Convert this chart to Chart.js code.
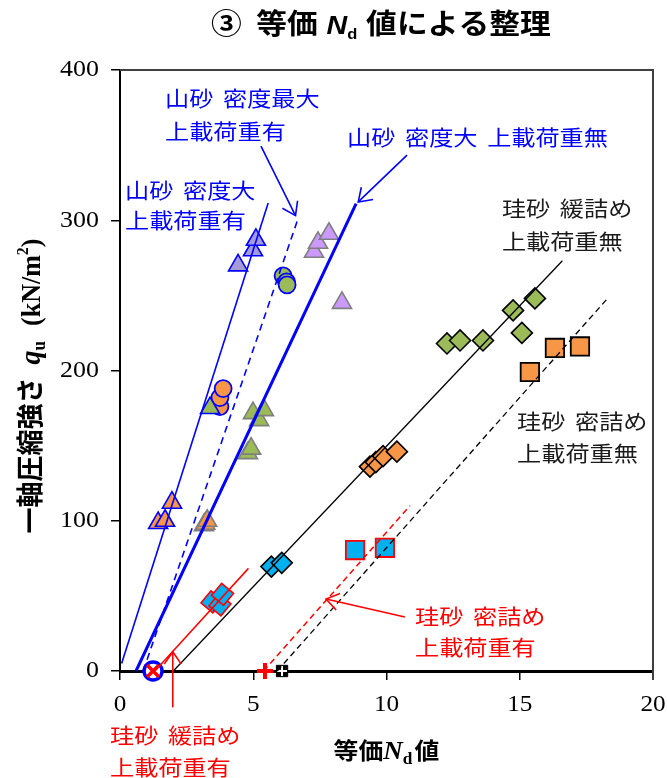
<!DOCTYPE html>
<html>
<head>
<meta charset="utf-8">
<script src="https://cdn.jsdelivr.net/npm/chart.js@4"></script>
<style>
  html, body { margin: 0; padding: 0; background: #fff; }
  #wrap { width: 668px; height: 778px; position: relative; }
</style>
</head>
<body>
<div id="wrap"><canvas id="c" width="668" height="778"></canvas></div>
<script>
// ---- axis ticks ----
const xTickLabels = [0, 5, 10, 15, 20];
const yTickLabels = [0, 100, 200, 300, 400];

// ---- 山砂 密度大 上載荷重有 (blue outline) ----
const yamaDenseLoadedLilacX = [4.43, 4.99, 5.10];
const yamaDenseLoadedLilacY = [270, 280, 287];
const yamaDenseLoadedGreenX = [3.38];
const yamaDenseLoadedGreenY = [175];
const yamaDenseLoadedOrangeX = [1.43, 1.69, 1.95];
const yamaDenseLoadedOrangeY = [98.5, 100, 112];

// ---- 山砂 密度最大 上載荷重有 (circles, blue outline) ----
const yamaMaxLoadedGreenX = [6.12, 6.25, 6.27];
const yamaMaxLoadedGreenY = [263, 259, 257];
const yamaMaxLoadedOrangeX = [3.75, 3.75, 3.87];
const yamaMaxLoadedOrangeY = [176, 182, 188];
const yamaMaxLoadedZeroX = [1.24];
const yamaMaxLoadedZeroY = [0];

// ---- 山砂 密度大 上載荷重無 (grey outline) ----
const yamaDenseFreeLilacX = [7.28, 7.43, 7.84, 8.33];
const yamaDenseFreeLilacY = [279, 285, 291, 245];
const yamaDenseFreeGreenX = [4.80, 4.92, 4.99, 5.22, 5.40];
const yamaDenseFreeGreenY = [145, 148, 171.6, 167, 173.6];
const yamaDenseFreeOrangeX = [3.15, 3.20, 3.27];
const yamaDenseFreeOrangeY = [97, 98, 100];

// ---- 珪砂 緩詰め 上載荷重無 (diamonds) ----
const silicaLooseFreeGreenX = [12.27, 12.76, 13.62, 14.75, 15.08, 15.57];
const silicaLooseFreeGreenY = [218, 220, 220, 240, 225, 248];
const silicaLooseFreeOrangeX = [9.38, 9.60, 9.87, 10.39];
const silicaLooseFreeOrangeY = [136, 139, 143, 146];
const silicaLooseFreeCyanX = [5.68, 6.07];
const silicaLooseFreeCyanY = [69.5, 72];

// ---- 珪砂 密詰め 上載荷重無 (squares) ----
const silicaDenseFreeOrangeX = [15.38, 16.32, 17.26];
const silicaDenseFreeOrangeY = [199, 215, 216];
const silicaDenseFreeZeroX = [6.08];
const silicaDenseFreeZeroY = [0];

// ---- 珪砂 密詰め 上載荷重有 (squares, red outline) ----
const silicaDenseLoadedCyanX = [8.82, 9.94];
const silicaDenseLoadedCyanY = [80.5, 82];
const silicaDenseLoadedZeroX = [5.44];
const silicaDenseLoadedZeroY = [0];

// ---- 珪砂 緩詰め 上載荷重有 (tilted rectangles, red outline) ----
const silicaLooseLoadedCyanX = [3.45, 3.75, 3.85];
const silicaLooseLoadedCyanY = [46, 44, 51];
const silicaLooseLoadedZeroX = [1.24];
const silicaLooseLoadedZeroY = [0];

// ---- trend lines (end points) ----
const fitYamaDenseLoadedX = [0.06, 5.56];
const fitYamaDenseLoadedY = [5, 311.5];
const fitYamaMaxLoadedX = [0.87, 6.68];
const fitYamaMaxLoadedY = [0, 301];
const fitYamaDenseFreeX = [0.6, 8.86];
const fitYamaDenseFreeY = [0, 311];
const fitSilicaLooseFreeX = [2.0, 16.6];
const fitSilicaLooseFreeY = [0, 273];
const fitSilicaDenseFreeX = [5.9, 18.27];
const fitSilicaDenseFreeY = [0, 247.5];
const fitSilicaDenseLoadedX = [5.39, 10.88];
const fitSilicaDenseLoadedY = [0, 110];
const fitSilicaLooseLoadedX = [1.31, 4.82];
const fitSilicaLooseLoadedY = [0, 68.3];

// ---- styling ----
const CJK = '"Noto Sans CJK JP", "Noto Sans", sans-serif';
const SERIF = '"Liberation Serif", "DejaVu Serif", serif';
const SANS = '"Liberation Sans", Arial, sans-serif';
const SX = 1.15; // horizontal widening of the lettering

const BLUE = '#0000ff', RED = '#ff0000', INK = '#1a1a1a';
const GREEN = '#9bbb59', ORANGE = '#f79646', CYAN = '#00b0f0';
const LILAC = '#cc99ff', LILAC_DARK = '#a59bd8', GREY = '#7f7f7f';

function toPoints(xs, ys) { return xs.map((x, i) => ({ x, y: ys[i] })); }

function markers(label, xs, ys, style, radius, fill, stroke, width, order, rotation) {
  return {
    label, data: toPoints(xs, ys), showLine: false, clip: false, order,
    pointStyle: style, pointRadius: radius, pointHoverRadius: radius,
    pointBackgroundColor: fill, pointBorderColor: stroke, pointBorderWidth: width,
    pointHoverBorderWidth: width, pointRotation: rotation || 0,
    backgroundColor: fill, borderColor: stroke
  };
}

function trend(label, xs, ys, color, width, dash) {
  return {
    label, data: toPoints(xs, ys), showLine: true, clip: false, order: 0,
    borderColor: color, borderWidth: width, borderDash: dash || [],
    pointRadius: 0, pointHoverRadius: 0, fill: false, tension: 0
  };
}

const datasets = [
  trend('山砂 密度大 上載荷重有', fitYamaDenseLoadedX, fitYamaDenseLoadedY, BLUE, 1.6),
  trend('山砂 密度最大 上載荷重有', fitYamaMaxLoadedX, fitYamaMaxLoadedY, BLUE, 1.6, [7, 5]),
  trend('山砂 密度大 上載荷重無', fitYamaDenseFreeX, fitYamaDenseFreeY, BLUE, 3),
  trend('珪砂 緩詰め 上載荷重無', fitSilicaLooseFreeX, fitSilicaLooseFreeY, '#000', 1.3),
  trend('珪砂 密詰め 上載荷重無', fitSilicaDenseFreeX, fitSilicaDenseFreeY, '#000', 1.3, [6, 4]),
  trend('珪砂 密詰め 上載荷重有', fitSilicaDenseLoadedX, fitSilicaDenseLoadedY, RED, 1.5, [6, 4]),
  trend('珪砂 緩詰め 上載荷重有', fitSilicaLooseLoadedX, fitSilicaLooseLoadedY, RED, 1.5),

  markers('山砂 密度大 上載荷重有 (A)', yamaDenseLoadedLilacX, yamaDenseLoadedLilacY, 'triangle', 11, LILAC_DARK, BLUE, 1.6, 5),
  markers('山砂 密度大 上載荷重有 (B)', yamaDenseLoadedGreenX, yamaDenseLoadedGreenY, 'triangle', 11, GREEN, BLUE, 1.6, 5),
  markers('山砂 密度大 上載荷重有 (C)', yamaDenseLoadedOrangeX, yamaDenseLoadedOrangeY, 'triangle', 11, ORANGE, BLUE, 1.6, 5),
  markers('山砂 密度最大 上載荷重有 (A)', yamaMaxLoadedGreenX, yamaMaxLoadedGreenY, 'circle', 8.5, GREEN, BLUE, 1.8, 5),
  markers('山砂 密度最大 上載荷重有 (B)', yamaMaxLoadedOrangeX, yamaMaxLoadedOrangeY, 'circle', 8.5, ORANGE, BLUE, 1.8, 5),
  markers('山砂 密度最大 上載荷重有 (0)', yamaMaxLoadedZeroX, yamaMaxLoadedZeroY, 'circle', 9, '#ffffff', BLUE, 3.5, 4),
  markers('山砂 密度大 上載荷重無 (A)', yamaDenseFreeLilacX, yamaDenseFreeLilacY, 'triangle', 11, LILAC, GREY, 1.6, 5),
  markers('山砂 密度大 上載荷重無 (B)', yamaDenseFreeGreenX, yamaDenseFreeGreenY, 'triangle', 11, GREEN, GREY, 1.6, 5),
  markers('山砂 密度大 上載荷重無 (C)', yamaDenseFreeOrangeX, yamaDenseFreeOrangeY, 'triangle', 11, ORANGE, GREY, 1.6, 5),
  markers('珪砂 緩詰め 上載荷重無 (A)', silicaLooseFreeGreenX, silicaLooseFreeGreenY, 'rectRot', 10.5, GREEN, '#000', 1.6, 5),
  markers('珪砂 緩詰め 上載荷重無 (B)', silicaLooseFreeOrangeX, silicaLooseFreeOrangeY, 'rectRot', 10.5, ORANGE, '#000', 1.6, 5),
  markers('珪砂 緩詰め 上載荷重無 (C)', silicaLooseFreeCyanX, silicaLooseFreeCyanY, 'rectRot', 10.5, CYAN, '#000', 1.6, 5),
  markers('珪砂 密詰め 上載荷重無 (A)', silicaDenseFreeOrangeX, silicaDenseFreeOrangeY, 'rect', 13, ORANGE, '#000', 1.8, 5),
  markers('珪砂 密詰め 上載荷重無 (0)', silicaDenseFreeZeroX, silicaDenseFreeZeroY, 'rect', 8, '#000', '#000', 1, 4),
  markers('珪砂 密詰め 上載荷重無 (0+)', silicaDenseFreeZeroX, silicaDenseFreeZeroY, 'cross', 5, '#fff', '#fff', 2, 3),
  markers('珪砂 密詰め 上載荷重有 (A)', silicaDenseLoadedCyanX, silicaDenseLoadedCyanY, 'rect', 13, CYAN, RED, 1.8, 5),
  markers('珪砂 密詰め 上載荷重有 (0)', silicaDenseLoadedZeroX, silicaDenseLoadedZeroY, 'cross', 8, RED, RED, 4, 3),
  markers('珪砂 緩詰め 上載荷重有 (A)', silicaLooseLoadedCyanX, silicaLooseLoadedCyanY, 'rect', 11, CYAN, RED, 1.6, 5, 40),
  markers('珪砂 緩詰め 上載荷重有 (0)', silicaLooseLoadedZeroX, silicaLooseLoadedZeroY, 'crossRot', 8.5, RED, RED, 3.5, 3)
];

// ---- annotation texts and arrows, placed in axis units ----
const noteTexts = [
  { lines: ['山砂 密度最大', '上載荷重有'], x: 1.69, y: [381.2, 359.3], color: BLUE },
  { lines: ['山砂 密度大', '上載荷重有'], x: 0.19, y: [320, 300], color: BLUE },
  { lines: ['山砂 密度大 上載荷重無'], x: 8.52, y: [355.3], color: BLUE },
  { lines: ['珪砂 緩詰め', '上載荷重無'], x: 14.33, y: [308, 286.1], color: INK },
  { lines: ['珪砂 密詰め', '上載荷重無'], x: 14.9, y: [166.3, 145], color: INK },
  { lines: ['珪砂 密詰め', '上載荷重有'], x: 11.07, y: [36.6, 16], color: RED },
  { lines: ['珪砂 緩詰め', '上載荷重有'], x: -0.375, y: [-42.6, -63.9], color: RED }
];
const noteArrows = [
  { from: [5.29, 349.3], to: [6.585, 303.1], color: BLUE },
  { from: [10.77, 343.3], to: [8.94, 312.2], color: BLUE },
  { from: [10.69, 35.9], to: [7.73, 47.9], color: RED },
  { from: [1.98, -24.2], to: [1.98, 12.8], color: RED }
];

// text drawn with a horizontal widening; spaces get a wider gap
function wideText(ctx, text, x, y, font, color, align, baseline, gapEm, sx) {
  ctx.save();
  ctx.font = font;
  ctx.fillStyle = color;
  ctx.textBaseline = baseline || 'middle';
  ctx.translate(x, y);
  ctx.scale(sx || SX, 1);
  const parts = text.split(' ');
  const size = parseFloat(font.match(/([\d.]+)px/)[1]);
  const gap = (gapEm || 0.4) * size;
  let total = 0;
  parts.forEach((p, i) => { total += ctx.measureText(p).width + (i ? gap : 0); });
  let cx = align === 'right' ? -total : align === 'center' ? -total / 2 : 0;
  ctx.textAlign = 'left';
  parts.forEach((p) => { ctx.fillText(p, cx, 0); cx += ctx.measureText(p).width + gap; });
  ctx.restore();
}

// runs of mixed fonts along one baseline
function drawRuns(ctx, runs, color) {
  ctx.fillStyle = color;
  ctx.textBaseline = 'alphabetic';
  ctx.textAlign = 'left';
  let x = 0;
  runs.forEach(r => {
    ctx.font = r.font;
    ctx.fillText(r.text, x, r.dy || 0);
    x += ctx.measureText(r.text).width + (r.gap || 0);
  });
  return x;
}

function runsWidth(ctx, runs) {
  let w = 0;
  runs.forEach(r => { ctx.font = r.font; w += ctx.measureText(r.text).width + (r.gap || 0); });
  return w;
}

function arrow(ctx, x1, y1, x2, y2, color) {
  const a = Math.atan2(y2 - y1, x2 - x1), L = 15, h = 0.6;
  ctx.save();
  ctx.strokeStyle = color;
  ctx.lineWidth = 1.6;
  ctx.beginPath(); ctx.moveTo(x1, y1); ctx.lineTo(x2, y2); ctx.stroke();
  ctx.beginPath();
  ctx.moveTo(x2 - L * Math.cos(a - h), y2 - L * Math.sin(a - h));
  ctx.lineTo(x2, y2);
  ctx.lineTo(x2 - L * Math.cos(a + h), y2 - L * Math.sin(a + h));
  ctx.stroke();
  ctx.restore();
}

const decorations = {
  id: 'decorations',
  beforeDatasetsDraw(chart) {
    const { ctx, chartArea: ca } = chart;
    ctx.save();
    ctx.strokeStyle = '#404040';
    ctx.lineWidth = 2;
    ctx.beginPath();
    ctx.moveTo(ca.left, ca.top);
    ctx.lineTo(ca.right, ca.top);
    ctx.lineTo(ca.right, ca.bottom + 9);
    ctx.stroke();
    ctx.restore();
  },
  afterDraw(chart) {
    const { ctx, chartArea: ca } = chart;
    const xs = chart.scales.x, ys = chart.scales.y;

    // tick labels
    xTickLabels.forEach(v => wideText(ctx, String(v), xs.getPixelForValue(v), ca.bottom + 34,
      '24px ' + SERIF, '#000', 'center', 'middle', 0.4, 1.05));
    yTickLabels.forEach(v => wideText(ctx, String(v), ca.left - 21, ys.getPixelForValue(v),
      '24px ' + SERIF, '#000', 'right', 'middle', 0.4, 1.08));

    // annotation labels
    noteTexts.forEach(n => n.lines.forEach((t, i) =>
      wideText(ctx, t, xs.getPixelForValue(n.x), ys.getPixelForValue(n.y[i]),
        '21px ' + CJK, n.color, 'left', 'middle', 0.4)));
    noteArrows.forEach(a => arrow(ctx,
      xs.getPixelForValue(a.from[0]), ys.getPixelForValue(a.from[1]),
      xs.getPixelForValue(a.to[0]), ys.getPixelForValue(a.to[1]), a.color));

    // title
    const titleRuns = [
      { text: '③', font: 'bold 28px ' + CJK, gap: 13 },
      { text: '等価', font: 'bold 28px ' + CJK, gap: 8 },
      { text: 'N', font: 'italic bold 26px ' + SANS },
      { text: 'd', font: 'bold 15px ' + SANS, dy: 5, gap: 8 },
      { text: '値による整理', font: 'bold 28px ' + CJK }
    ];
    ctx.save();
    const TSX = 1.1;
    const tw = runsWidth(ctx, titleRuns) * TSX;
    ctx.translate(381 - tw / 2, 34);
    ctx.scale(TSX, 1);
    drawRuns(ctx, titleRuns, '#000');
    ctx.restore();

    // x axis title
    const xRuns = [
      { text: '等価', font: 'bold 23px ' + CJK },
      { text: 'N', font: 'italic bold 25px ' + SERIF },
      { text: 'd', font: 'bold 16px ' + SERIF, dy: 5, gap: 2 },
      { text: '値', font: 'bold 23px ' + CJK }
    ];
    ctx.save();
    const XSX = 1.08;
    const xw = runsWidth(ctx, xRuns) * XSX;
    ctx.translate((ca.left + ca.right) / 2 - xw / 2, 759);
    ctx.scale(XSX, 1);
    drawRuns(ctx, xRuns, '#000');
    ctx.restore();

    // y axis title (rotated)
    const yRuns = [
      { text: '一軸圧縮強さ', font: 'bold 26px ' + CJK, gap: 13 },
      { text: 'q', font: 'italic bold 28px ' + SERIF },
      { text: 'u', font: 'bold 17px ' + SERIF, dy: 5, gap: 15 },
      { text: '(kN/m', font: 'bold 26px ' + SERIF },
      { text: '2', font: 'bold 16px ' + SERIF, dy: -11 },
      { text: ')', font: 'bold 26px ' + SERIF }
    ];
    ctx.save();
    const yw = runsWidth(ctx, yRuns);
    ctx.translate(40, 386);
    ctx.scale(1.05, 1);
    ctx.rotate(-Math.PI / 2);
    ctx.translate(-yw / 2, 0);
    drawRuns(ctx, yRuns, '#000');
    ctx.restore();
  }
};

new Chart(document.getElementById('c'), {
  type: 'scatter',
  data: { datasets },
  options: {
    responsive: false,
    animation: false,
    events: [],
    layout: { padding: { left: 0, right: 15, top: 70, bottom: 0 } },
    plugins: { legend: { display: false }, tooltip: { enabled: false }, title: { display: false } },
    scales: {
      x: {
        type: 'linear', min: 0, max: 20,
        afterBuildTicks: s => { s.ticks = xTickLabels.map(v => ({ value: v })); },
        afterFit: s => { s.height = 107; },
        ticks: { display: false },
        grid: { drawOnChartArea: false, drawTicks: true, tickLength: 9, color: '#000', lineWidth: 1.5 },
        border: { color: '#000', width: 3 }
      },
      y: {
        type: 'linear', min: 0, max: 400,
        afterBuildTicks: s => { s.ticks = yTickLabels.map(v => ({ value: v })); },
        afterFit: s => { s.width = 120; },
        ticks: { display: false },
        grid: { drawOnChartArea: false, drawTicks: true, tickLength: 9, color: '#000', lineWidth: 1.5 },
        border: { color: '#000', width: 2 }
      }
    }
  },
  plugins: [decorations]
});
</script>
</body>
</html>
